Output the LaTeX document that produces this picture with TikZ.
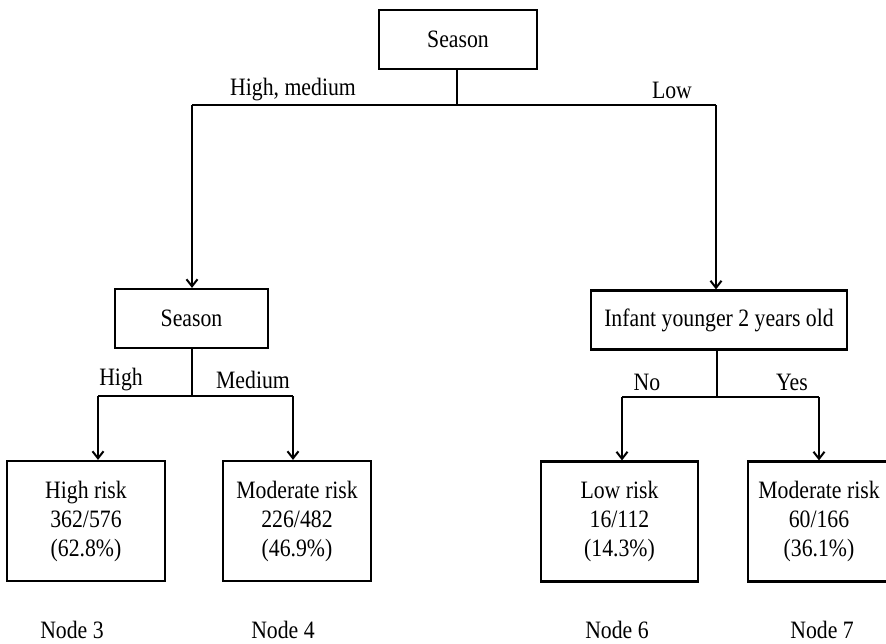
\documentclass[tikz,border=0pt]{standalone}
\usepackage{fontspec}
\setmainfont{Liberation Serif}[FakeStretch=0.87]
\usetikzlibrary{arrows.meta}
\begin{document}
\begin{tikzpicture}[x=1pt,y=-1pt,
  box/.style={draw,line width=2.2pt,minimum height=59pt,inner sep=0pt,align=center,
    font=\fontsize{25}{29}\selectfont},
  leaf/.style={box,minimum height=120pt},
  link/.style={line width=2pt},
  arr/.style={link,-{Straight Barb[length=7pt,width=11pt,line width=2pt]}},
  lbl/.style={inner sep=0pt,font=\fontsize{25}{29}\selectfont},
  foot/.style={inner sep=0pt,font=\fontsize{25}{29}\selectfont}]
\useasboundingbox (0,0) rectangle (886,643);
\begin{scope}
\clip (0,0) rectangle (886,643);
% root split
\node[box,minimum width=158pt] (root) at (458,39.5) {Season};
% second level
\node[box,minimum width=153pt] (m1) at (191.5,318.5) {Season};
\node[box,minimum width=256pt] (m2) at (719,320) {Infant younger 2 years old};
% terminal nodes
\node[leaf,minimum width=158pt] (b3) at (86,521) {High risk\\362/576\\(62.8\%)};
\node[leaf,minimum width=148pt] (b4) at (297,521) {Moderate risk\\226/482\\(46.9\%)};
\node[leaf,minimum width=157pt] (b6) at (619.5,521.5) {Low risk\\16/112\\(14.3\%)};
\node[leaf,minimum width=142pt] (b7) at (819,521.5) {Moderate risk\\60/166\\(36.1\%)};

% junction points of the elbow connectors
\coordinate (j0) at (457,105);
\coordinate (jl) at (192,105);
\coordinate (jr) at (716,105);
\coordinate (j1) at (192,396);
\coordinate (s3) at (98,396);
\coordinate (s4) at (293,396);
\coordinate (j2) at (717,397);
\coordinate (s6) at (622,397);
\coordinate (s7) at (819,397);

\draw[link] (root.south -| j0) -- (j0);
\draw[link] (jl) -- (jr);
\draw[arr] (jl) -- (jl |- m1.north);
\draw[arr] (jr) -- (jr |- m2.north);

\draw[link] (m1.south -| j1) -- (j1);
\draw[link] (s3) -- (s4);
\draw[arr] (s3) -- (s3 |- b3.north);
\draw[arr] (s4) -- (s4 |- b4.north);

\draw[link] (m2.south -| j2) -- (j2);
\draw[link] (s6) -- (s7);
\draw[arr] (s6) -- (s6 |- b6.north);
\draw[arr] (s7) -- (s7 |- b7.north);

% branch labels
\node[lbl] (lhm) at (293,90) {High, medium};
\node[lbl] (llow) at (672,90) {Low};
\node[lbl] (lhigh) at (121,380) {High};
\node[lbl] (lmed) at (253,380) {Medium};
\node[lbl] (lno) at (647,382) {No};
\node[lbl] (lyes) at (792,382) {Yes};

% node numbers
\node[foot] (n3) at (72,630) {Node 3};
\node[foot] (n4) at (283,630) {Node 4};
\node[foot] (n6) at (617,630) {Node 6};
\node[foot] (n7) at (822,630) {Node 7};
\end{scope}
\end{tikzpicture}
\end{document}
